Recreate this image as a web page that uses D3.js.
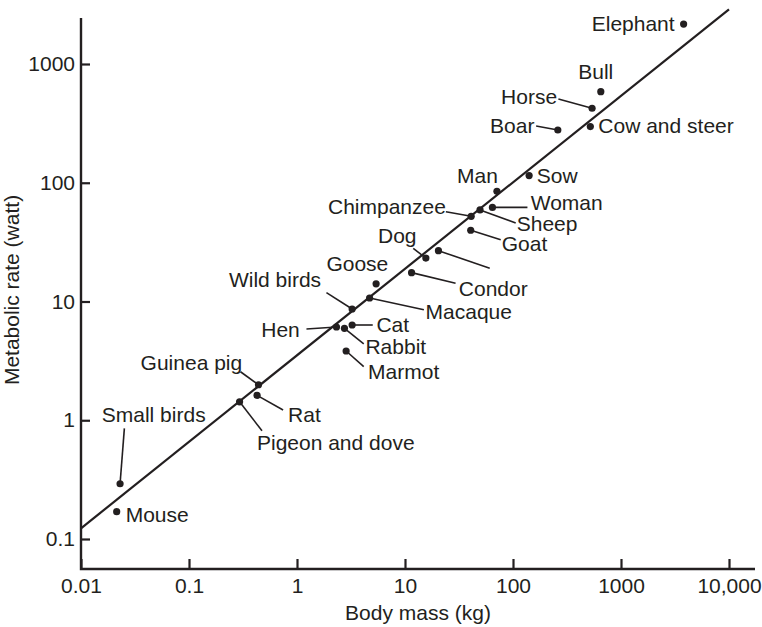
<!DOCTYPE html>
<html>
<head>
<meta charset="utf-8">
<script src="https://cdn.jsdelivr.net/npm/d3@7"></script>
<style>
  html, body { margin: 0; padding: 0; background: #fff; }
  svg text { font-family: "Liberation Sans", Arial, Helvetica, sans-serif; fill: #231f20; }
</style>
</head>
<body>
<svg id="chart" width="762" height="627"></svg>
<script>
// Mouse-to-elephant curve: body mass (kg) against metabolic rate (watt)
const animals = ["Elephant", "Bull", "Horse", "Cow and steer", "Boar", "Sow", "Man", "Woman",
  "Sheep", "Chimpanzee", "Goat", "Dog", "", "Condor", "Goose", "Macaque", "Wild birds",
  "Hen", "Cat", "Rabbit", "Marmot", "Guinea pig", "Rat", "Pigeon and dove", "Small birds", "Mouse"];
const massKg = [3800, 650, 540, 520, 260, 141, 71, 64.5,
  49.5, 41, 40.6, 15.6, 20.4, 11.5, 5.4, 4.7, 3.24,
  2.32, 3.24, 2.75, 2.85, 0.44, 0.427, 0.294, 0.023, 0.0214];
const rateW = [2170, 585, 424, 297, 278, 115, 84.7, 62,
  59, 52.2, 39.8, 23.2, 26.8, 17.5, 14.1, 10.7, 8.65,
  6.1, 6.34, 5.95, 3.83, 1.99, 1.62, 1.43, 0.292, 0.17];

// Fitted power-law line, given by its two end points (mass, rate)
const fitMass = [0.01, 10000];
const fitRate = [0.123, 2890];

const xTickValues = [0.01, 0.1, 1, 10, 100, 1000, 10000];
const xTickLabels = ["0.01", "0.1", "1", "10", "100", "1000", "10,000"];
const yTickValues = [0.1, 1, 10, 100, 1000];
const yTickLabels = ["0.1", "1", "10", "100", "1000"];

// Label placement relative to each dot: text offset, anchor, optional leader line
const labelLayout = {
  "Elephant":        { dx: -9,    dy: 7,    anchor: "end" },
  "Bull":            { dx: -5,    dy: -13,  anchor: "middle" },
  "Horse":           { dx: -35,   dy: -4,   anchor: "end",   lead: [-33.7, -9.3, 0, 0] },
  "Cow and steer":   { dx: 8,     dy: 6,    anchor: "start" },
  "Boar":            { dx: -23.4, dy: 2.7,  anchor: "end",   lead: [-21.7, -4, 0, 0] },
  "Sow":             { dx: 7.7,   dy: 7.6,  anchor: "start" },
  "Man":             { dx: 1,     dy: -8,   anchor: "end" },
  "Woman":           { dx: 38.3,  dy: 2.6,  anchor: "start", lead: [0, 0, 35, 0] },
  "Sheep":           { dx: 36.7,  dy: 20.6, anchor: "start", lead: [0, 0, 35.7, 13] },
  "Chimpanzee":      { dx: -25.3, dy: -2.3, anchor: "end",   lead: [-25.3, -4.6, 0, 0] },
  "Goat":            { dx: 31,    dy: 20.8, anchor: "start", lead: [0, 0, 30, 9.5] },
  "Dog":             { dx: -9.3,  dy: -15.3, anchor: "end",  lead: [-12.6, -9.7, 0, 0] },
  "":                { dx: 0,     dy: 0,    anchor: "start", lead: [0, 0, 51.3, 17.6] },
  "Condor":          { dx: 47.3,  dy: 23,   anchor: "start", lead: [0, 0, 44, 10.6] },
  "Goose":           { dx: -49.7, dy: -13,  anchor: "start" },
  "Macaque":         { dx: 56,    dy: 20.7, anchor: "start", lead: [0, 0, 54.3, 11.7] },
  "Wild birds":      { dx: -31,   dy: -22.3, anchor: "end",  lead: [-25.7, -16.3, 0, 0] },
  "Hen":             { dx: -36.7, dy: 9.7,  anchor: "end",   lead: [-30, 2, 0, 0] },
  "Cat":             { dx: 24.3,  dy: 6.7,  anchor: "start", lead: [0, 0, 20.6, 0] },
  "Rabbit":          { dx: 21,    dy: 25.7, anchor: "start", lead: [0, 0, 19.3, 15.7] },
  "Marmot":          { dx: 22,    dy: 28.5, anchor: "start", lead: [0, 0, 17.6, 15.7] },
  "Guinea pig":      { dx: -16.3, dy: -15.2, anchor: "end",  lead: [-18, -13, 0, 0] },
  "Rat":             { dx: 31,    dy: 26.4, anchor: "start", lead: [0, 0, 26, 14.7] },
  "Pigeon and dove": { dx: 17.4,  dy: 48.3, anchor: "start", lead: [0, 0, 22.4, 29] },
  "Small birds":     { dx: -18.3, dy: -62,  anchor: "start", lead: [4.3, -55.4, 0, 0] },
  "Mouse":           { dx: 9,     dy: 10,   anchor: "start" }
};

const ink = "#231f20";
const fontSize = 21;
const svg = d3.select("#chart");

const x = d3.scaleLog().domain([0.01, 10000]).range([81, 729]);
const y = d3.scaleLog().domain([0.1, 1000]).range([539, 64]);

const axisBottomY = 569, axisRightX = 755, axisTopY = 18;

// X axis (ticks point inward / upward)
const xAxis = d3.axisBottom(x)
  .tickValues(xTickValues)
  .tickFormat((d, i) => xTickLabels[i])
  .tickSizeInner(-10).tickSizeOuter(0).tickPadding(9.5);
const gx = svg.append("g").attr("transform", `translate(0,${axisBottomY})`).call(xAxis);
gx.select(".domain").remove();
gx.selectAll(".tick line").attr("stroke", ink).attr("stroke-width", 2.2);
gx.selectAll(".tick text").attr("font-size", fontSize).attr("font-family", null).attr("fill", ink);

// Y axis (ticks point inward / right)
const yAxis = d3.axisLeft(y)
  .tickValues(yTickValues)
  .tickFormat((d, i) => yTickLabels[i])
  .tickSizeInner(-9).tickSizeOuter(0).tickPadding(6);
const gy = svg.append("g").attr("transform", `translate(${x.range()[0]},0)`).call(yAxis);
gy.select(".domain").remove();
gy.selectAll(".tick line").attr("stroke", ink).attr("stroke-width", 2.2);
gy.selectAll(".tick text").attr("font-size", fontSize).attr("font-family", null).attr("fill", ink);

// Axis lines
svg.append("path")
  .attr("d", `M${x.range()[0]},${axisTopY}V${axisBottomY}H${axisRightX}`)
  .attr("fill", "none").attr("stroke", ink).attr("stroke-width", 2.4);

// Axis titles
svg.append("text")
  .attr("x", 418).attr("y", 620)
  .attr("text-anchor", "middle").attr("font-size", fontSize)
  .text("Body mass (kg)");
svg.append("text")
  .attr("transform", "translate(19,290) rotate(-90)")
  .attr("text-anchor", "middle").attr("font-size", fontSize)
  .text("Metabolic rate (watt)");

// Fitted line
const fitLine = d3.line().x(d => x(d[0])).y(d => y(d[1]));
svg.append("path")
  .datum(d3.zip(fitMass, fitRate))
  .attr("d", fitLine)
  .attr("fill", "none").attr("stroke", ink).attr("stroke-width", 2.2);

const points = animals.map((name, i) => ({ name, m: massKg[i], p: rateW[i] }));

// Leader lines
svg.append("g").selectAll("line")
  .data(points.filter(d => labelLayout[d.name].lead))
  .join("line")
  .attr("x1", d => x(d.m) + labelLayout[d.name].lead[0])
  .attr("y1", d => y(d.p) + labelLayout[d.name].lead[1])
  .attr("x2", d => x(d.m) + labelLayout[d.name].lead[2])
  .attr("y2", d => y(d.p) + labelLayout[d.name].lead[3])
  .attr("stroke", ink).attr("stroke-width", 1.6);

// Dots
svg.append("g").selectAll("circle")
  .data(points)
  .join("circle")
  .attr("cx", d => x(d.m)).attr("cy", d => y(d.p))
  .attr("r", 3.6).attr("fill", ink);

// Labels
svg.append("g").selectAll("text")
  .data(points.filter(d => d.name))
  .join("text")
  .attr("x", d => x(d.m) + labelLayout[d.name].dx)
  .attr("y", d => y(d.p) + labelLayout[d.name].dy)
  .attr("text-anchor", d => labelLayout[d.name].anchor)
  .attr("font-size", fontSize)
  .text(d => d.name);
</script>
</body>
</html>
